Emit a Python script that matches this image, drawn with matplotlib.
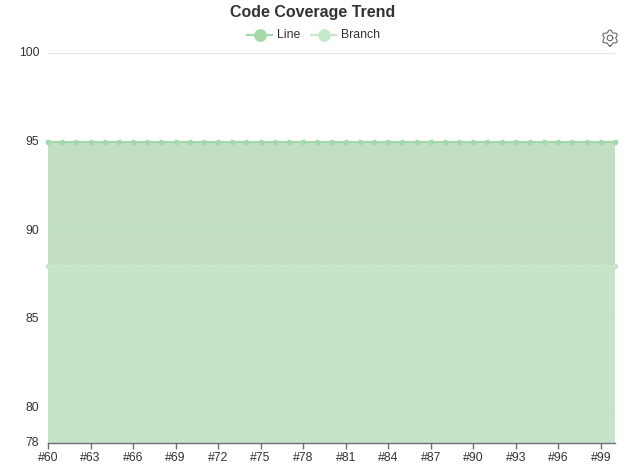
import numpy as np
import matplotlib
matplotlib.use("Agg")
import matplotlib.pyplot as plt
from matplotlib.lines import Line2D
from matplotlib.transforms import ScaledTranslation

builds = ["#60","#61","#62","#63","#64","#65","#66","#67","#68","#69","#70","#71","#72","#73",
          "#74","#75","#76","#77","#78","#79","#80","#81","#82","#83","#84","#85","#86","#87",
          "#88","#89","#90","#91","#92","#93","#94","#95","#96","#97","#98","#99","#100"]
line_cov = [95,95,95,95,95,95,95,95,95,95,95,95,95,95,95,95,95,95,95,95,95,
            95,95,95,95,95,95,95,95,95,95,95,95,95,95,95,95,95,95,95,95]
branch_cov = [88,88,88,88,88,88,88,88,88,88,88,88,88,88,88,88,88,88,88,88,88,
              88,88,88,88,88,88,88,88,88,88,88,88,88,88,88,88,88,88,88,88]
y_ticks = [78, 80, 85, 90, 95, 100]
LINE_C = "#a3d8ab"
BRANCH_C = "#c8e8cc"
LINE_FILL = "#c2dfc3"
BRANCH_FILL = "#c6e4ca"
TXT = "#333333"

plt.rcParams["font.family"] = ["Liberation Sans", "DejaVu Sans"]
W, H = 629, 468
fig = plt.figure(figsize=(W/100, H/100), dpi=100)
L, R, T, B = 48, 615, 53, 443
ax = fig.add_axes([L/W, 1-B/H, (R-L)/W, (B-T)/H])
x = np.arange(len(builds))
ax.set_xlim(0, len(builds)-1)
ax.set_ylim(78, 100)

for s in ("top", "right", "left"):
    ax.spines[s].set_visible(False)
ax.spines["bottom"].set_color("#6e7079")
ax.spines["bottom"].set_linewidth(1)
ax.spines["bottom"].set_zorder(6)
ax.set_axisbelow(True)
ax.yaxis.grid(False)
ax.xaxis.grid(False)
ax.set_yticks(y_ticks)
ax.set_xticks(x[::3])
ax.set_xticklabels(builds[::3])
ax.tick_params(axis="y", length=0, pad=6.2, labelsize=8.8, labelcolor=TXT)
ax.tick_params(axis="x", length=4, width=1, color="#6e7079", pad=2.5, labelsize=8.8, labelcolor=TXT)
shift = ScaledTranslation(0, 1/100, fig.dpi_scale_trans)
for lab in ax.get_yticklabels():
    lab.set_transform(lab.get_transform() + shift)

ax.fill_between(x, line_cov, 78, color=LINE_FILL, lw=0, zorder=2)
ax.fill_between(x, branch_cov, 78, color=BRANCH_FILL, lw=0, zorder=2.1)
# gridlines show faintly through the translucent areas
for v in y_ticks[1:]:
    c = "#e0e6f1" if v == 100 else ("#b8dfc0" if v == 90 else "#c3e2c7")
    ax.axhline(v, color=c, lw=1, zorder=2.5)
ax.plot(x, line_cov, color=LINE_C, lw=1.5, marker="o", ms=3.0, zorder=3, clip_on=False)
ax.plot(x, branch_cov, color=BRANCH_C, lw=1.5, marker="o", ms=3.0, zorder=3, clip_on=False)

fig.text(312.5/W, 1-12.5/H, "Code Coverage Trend", ha="center", va="center",
         fontsize=11.55, fontweight="bold", color=TXT)

def leg(x0, x1, c, label, tx):
    y = 1-35/H
    fig.add_artist(Line2D([x0/W, x1/W], [y, y], color=c, lw=1.6))
    fig.add_artist(Line2D([(x0+x1)/2/W], [y], marker="o", ms=8.2, color=c, lw=0))
    fig.text(tx/W, y, label, ha="left", va="center", fontsize=8.8, color=TXT)
leg(247, 272, LINE_C, "Line", 277)
leg(311, 336, BRANCH_C, "Branch", 341)

# settings gear icon (pixel coordinates of the toolbox button)
cx, cy = 610, 38
theta = np.linspace(0, 2*np.pi, 200)
rad = 6.9 + 1.1*np.cos(6*theta)
gx = (cx + rad*np.sin(theta))/W
gy = 1-(cy + rad*np.cos(theta))/H
fig.add_artist(Line2D(gx, gy, color="#666666", lw=0.8))
t2 = np.linspace(0, 2*np.pi, 40)
fig.add_artist(Line2D((cx+2.8*np.cos(t2))/W, 1-(cy+2.8*np.sin(t2))/H, color="#666666", lw=0.8))

fig.savefig("out.png", dpi=100)
